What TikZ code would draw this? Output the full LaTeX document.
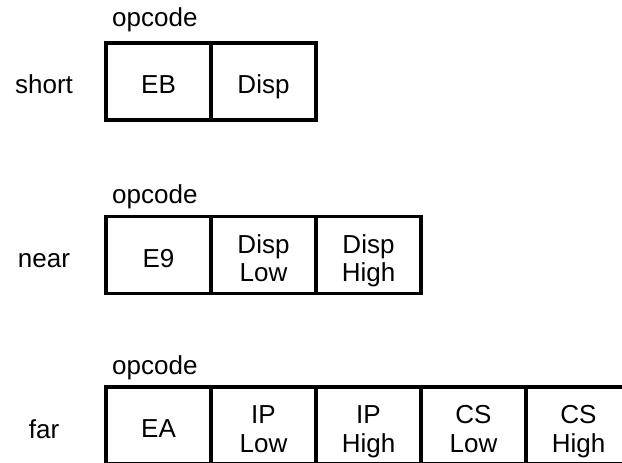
\documentclass[tikz,border=0pt]{standalone}
\usepackage{fontspec}
\setmainfont{Liberation Sans}
\newcommand{\cl}[1]{\rule[-1pt]{0pt}{26.6pt}\smash{#1}}
\begin{document}
\begin{tikzpicture}[x=1pt,y=-1pt,
  cell/.style={draw=black, line width=3.8pt, minimum width=105pt, minimum height=77pt,
    inner sep=0pt, outer sep=0pt, align=center, font=\fontsize{26}{28.5}\selectfont},
  rowlabel/.style={font=\fontsize{26}{28.5}\selectfont, inner sep=0pt},
  oplabel/.style={font=\fontsize{26}{28.5}\selectfont, inner sep=0pt, anchor=base west}]
\useasboundingbox (0,0) rectangle (622,463);
% short
\node[rowlabel] (lshort) at (44,81.5) {\cl{short}};
\node[cell] (s1) at (158.5,81.5) {\cl{EB}};
\node[cell] (s2) at (263.5,81.5) {\cl{Disp}};
\node[oplabel] (ops) at (112,27) {opcode};
% near
\node[rowlabel] (lnear) at (44,255) {\cl{near}};
\node[cell] (n1) at (158.5,255) {\cl{E9}};
\node[cell] (n2) at (263.5,255) {\cl{Disp}\\\cl{Low}};
\node[cell] (n3) at (368.5,255) {\cl{Disp}\\\cl{High}};
\node[oplabel] (opn) at (112,203) {opcode};
% far
\node[rowlabel] (lfar) at (44,426) {\cl{far}};
\node[cell] (f1) at (158.5,425.5) {\cl{EA}};
\node[cell] (f2) at (263.5,425.5) {\cl{IP}\\\cl{Low}};
\node[cell] (f3) at (368.5,425.5) {\cl{IP}\\\cl{High}};
\node[cell] (f4) at (473.5,425.5) {\cl{CS}\\\cl{Low}};
\node[cell] (f5) at (578.5,425.5) {\cl{CS}\\\cl{High}};
\node[oplabel] (opf) at (112,374) {opcode};
\end{tikzpicture}
\end{document}
